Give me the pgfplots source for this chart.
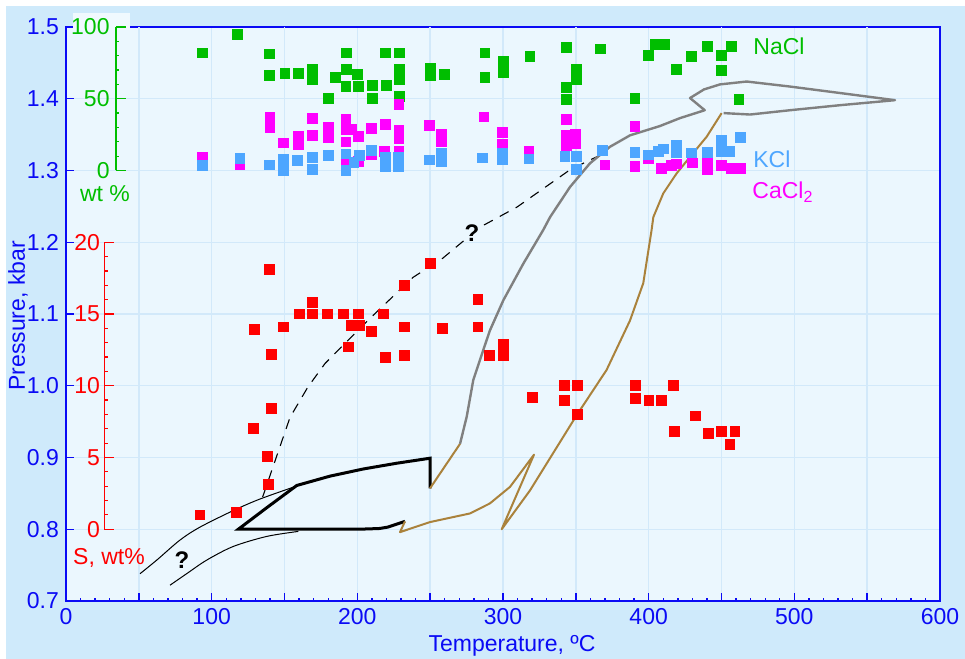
\documentclass[border=0pt]{standalone}
\usepackage{pgfplots}
\pgfplotsset{compat=1.18}
\usepackage{fontspec}
\setmainfont{Liberation Sans}
\definecolor{outerbg}{RGB}{207,234,251}
\definecolor{innerbg}{RGB}{235,247,254}
\definecolor{patchbg}{RGB}{240,249,254}
\definecolor{gridc}{RGB}{210,233,250}
\definecolor{axblue}{RGB}{10,10,245}
\definecolor{ngreen}{RGB}{0,190,0}
\definecolor{kblue}{RGB}{77,166,255}
\definecolor{cmag}{RGB}{255,0,255}
\definecolor{sred}{RGB}{255,0,0}
\definecolor{brownc}{RGB}{170,130,60}
\definecolor{greyc}{RGB}{128,128,128}
\newcommand\f{\fontsize{11.5}{13.8}\selectfont}
\pgfplotsset{
  common/.style={at={(33pt,29pt)}, anchor=south west, scale only axis,
    width=437pt, height=287pt, xmin=0, xmax=600},
  pts/.style={only marks, mark=square*, mark size=2.45pt, color=#1, mark options={solid, fill=#1, draw=none}},
}
\begin{document}
\begin{tikzpicture}[font=\f]
\useasboundingbox (0,0) rectangle (482.5pt,329.5pt);
\fill[white] (0,0) rectangle (482.5pt,329.5pt);
\fill[outerbg] (3pt,0) rectangle (482.5pt,326.5pt);
\begin{axis}[common, ymin=0.7, ymax=1.5,
  xtick={0,100,200,300,400,500,600},
  ytick={0.7,0.8,0.9,1.0,1.1,1.2,1.3,1.4,1.5},
  yticklabel style={/pgf/number format/.cd, fixed, fixed zerofill, precision=1},
  /pgf/number format/assume math mode=true,
  minor x tick num=9,
  extra x ticks={50,150,250,350,450,550}, extra x tick labels={},
  extra x tick style={grid=major},
  grid=major, major grid style={draw=gridc, line width=0.7pt},
  tick align=inside, xtick pos=bottom, ytick pos=left,
  major tick length=4pt, minor tick length=1.6pt,
  axis line style={draw=axblue, line width=1.3pt},
  tick style={draw=axblue, line width=0.7pt},
  ticklabel style={text=axblue, font=\f},
  axis background/.style={fill=innerbg},
  clip=false]
% thin upper black curve
\addplot[black, line width=0.5pt, smooth] coordinates {(50.8,0.738) (62.3,0.757) (78.3,0.785) (92,0.803) (114.8,0.826) (133,0.842) (158,0.860)};
% thin lower black curve
\addplot[black, line width=0.5pt, smooth] coordinates {(71.4,0.722) (82.8,0.738) (96.6,0.757) (114.8,0.776) (137.8,0.790) (159.5,0.797)};
% dashed curve
\addplot[black, line width=0.55pt, dash pattern=on 5pt off 4pt] coordinates {(135,0.845) (153.8,0.956) (166,0.998) (177.8,1.031) (191.5,1.059) (210.8,1.098) (238.2,1.151) (258.8,1.178) (284.2,1.221) (309.6,1.249) (346,1.301) (369.3,1.324)};
% thick black
\addplot[black, line width=1.5pt, line join=miter] coordinates {(249.9,0.857) (249.9,0.899) (227,0.892) (204.1,0.884) (181.2,0.874) (158.4,0.861) (137.8,0.830) (118.3,0.800) (200.4,0.800) (215,0.801) (221,0.803) (232.7,0.811)};
% brown A
\addplot[brownc, line width=1pt] coordinates {(249.9,0.857) (270.5,0.919)};
% brown B
\addplot[brownc, line width=1pt, line join=round] coordinates {(232.7,0.811) (229.3,0.796) (249.9,0.810) (277.3,0.822) (291,0.836) (304.8,0.859) (321.3,0.904) (299.1,0.800) (318.5,0.854) (350.6,0.959) (371.1,1.022) (387.2,1.091) (396.3,1.143) (402,1.217) (403.2,1.235) (410,1.268) (419.2,1.296) (428.4,1.319) (439.8,1.347) (450.1,1.380)};
% grey
\addplot[greyc, line width=1.2pt, line join=round] coordinates {(270.5,0.919) (275.1,0.957) (279.6,1.008) (286.5,1.050) (291,1.077) (300.2,1.119) (313.9,1.170) (327.6,1.217) (332.3,1.235) (346,1.277) (359.7,1.310) (373.4,1.333) (387.2,1.349) (407.8,1.362) (421.5,1.373) (438.5,1.384) (428.4,1.401) (438,1.413) (449,1.420) (467.3,1.424) (497,1.417) (531.3,1.408) (569.1,1.398) (531.3,1.391) (497,1.384) (469.6,1.378) (451.5,1.380)};
\end{axis}
\fill[patchbg] (36.5pt,314.6pt) rectangle (65pt,323pt);
% NaCl, CaCl2, KCl on wt% scale
\begin{axis}[common, ymin=-300, ymax=100, hide axis, clip=false]
\draw[ngreen, line width=0.7pt] (axis cs:34.3,0) -- (axis cs:34.3,100);
\pgfplotsinvokeforeach{10,20,30,40,60,70,80,90}{\draw[ngreen, line width=0.6pt] (axis cs:34.3,#1) -- ([xshift=1.7pt]axis cs:34.3,#1);}
\pgfplotsinvokeforeach{0,50,100}{\draw[ngreen, line width=0.7pt] (axis cs:34.3,#1) -- ([xshift=5pt]axis cs:34.3,#1);
  \node[anchor=east, inner sep=0pt, text=ngreen] at ([xshift=-3pt]axis cs:34.3,#1) {#1};}
\addplot[pts=ngreen] coordinates {
(93.6,82) (117.6,94.7) (139.6,81.3) (139.6,66.3) (150.3,67.7) (159.5,67.7) (169.4,70.4) (169.4,63.5)
(180,50.1) (184.7,65.1) (192.7,82) (192.7,70.4) (192.2,58.4) (200,67) (200.7,58.4) (210.5,59.3)
(210.5,50.1) (219,82) (219.7,59.3) (228.8,82) (228.8,70.4) (228.8,63.5) (228.8,51.7) (250.4,71)
(250.4,66) (259.5,67) (287.6,82) (287.6,65.1) (300.2,76.2) (300.2,68.1) (318.5,79.6) (343.7,85.5)
(350.6,70.4) (350.6,63.5) (343.7,57.7) (343.7,49.7) (367,84.8) (390.6,50.1) (399.7,80.1) (404.4,87.7)
(411.2,87.7) (419.2,70.4) (429.5,79.6) (440.5,86.6) (450.1,80.1) (450.1,70) (457,86.6) (462,49.7)};
\addplot[pts=cmag] coordinates {
(93.6,9.3) (119.4,4.2) (140,37.2) (140,30.2) (149.2,19.2) (159.5,24) (159.5,17.8) (169.4,36.3)
(169.4,24.2) (180,30.2) (180,23.3) (192.2,35.8) (192.2,28.9) (192.2,19.9) (196,28.9) (200.7,23.8)
(192.2,5.8) (200.7,6.5) (209.4,29.4) (209.4,10.9) (219,32.3) (218.6,13.2) (228.6,27.7) (228.6,22)
(228.6,46.2) (228.6,13.2) (249.4,31.6) (257.9,25.4) (257.9,19.9) (286.9,37.4) (299.6,26.6) (299.6,18.5)
(317.8,13.2) (343.7,35.8) (343.7,24.2) (343.7,17.3) (349.9,25.4) (349.9,18.5) (370,3.9) (390.6,30.7)
(390.6,3) (399.7,8.1) (408.9,1.2) (415.7,3.5) (419.2,4.6) (430.2,5.3) (440.2,5.8) (440.2,0.5)
(450.1,3.5) (457,1.2) (462.7,1.2)};
\addplot[pts=kblue] coordinates {
(93.6,3.5) (119.4,8.6) (139.6,3.9) (149.2,7.6) (149.2,0) (158.8,6.9) (169.4,9.3) (169.4,0.7)
(180,10.4) (192.2,11.6) (192.2,0) (197.7,5.8) (201.3,10.4) (209.4,13.9) (219,9) (219,3)
(228.1,9) (228.1,3) (249.4,7.4) (257.9,12) (257.9,6) (286,8.8) (299.6,12) (299.6,8) (317.8,8.1)
(342.5,10) (350.6,10) (350.6,0.7) (368.3,13.9) (390.6,12.7) (399.7,10.9) (406.6,13.2) (410,15)
(419.2,17.3) (419.2,12.7) (429.5,12.3) (440.2,12.7) (450.1,20.8) (450.1,13.2) (455.8,13.2) (462.7,23.1)};
\end{axis}
% S wt% scale
\begin{axis}[common, ymin=-5, ymax=35, hide axis, clip=false]
\draw[sred, line width=0.7pt] (axis cs:26.3,0) -- (axis cs:26.3,20);
\pgfplotsinvokeforeach{1,2,3,4,6,7,8,9,11,12,13,14,16,17,18,19}{\draw[sred, line width=0.6pt] (axis cs:26.3,#1) -- ([xshift=1.7pt]axis cs:26.3,#1);}
\pgfplotsinvokeforeach{0,5,10,15,20}{\draw[sred, line width=0.7pt] (axis cs:26.3,#1) -- ([xshift=5pt]axis cs:26.3,#1);
  \node[anchor=east, inner sep=0pt, text=sred] at ([xshift=-2pt]axis cs:26.3,#1) {#1};}
\addplot[pts=sred] coordinates {
(91.9,1.0) (117.1,1.2) (128.6,7.0) (138.4,5.1) (138.9,3.1) (141.2,8.4) (139.6,18.1) (141.2,12.2)
(129.3,13.9) (149.2,14.1) (160.2,15) (169.4,15.8) (169.4,15) (179.4,15) (190.4,15) (200.7,15)
(196.1,14.2) (201.3,14.2) (193.8,12.7) (209.4,13.8) (217.8,15) (219.5,12.0) (232.1,17.0) (232.1,14.1)
(232.1,12.1) (250.4,18.5) (258.6,14.0) (282.8,16) (282.8,14.1) (290.4,12.1) (300.2,12.9) (300.2,12.1)
(320.1,9.2) (342.1,10) (350.8,10) (342.1,9.0) (350.8,8.0) (391.1,10) (391.1,9.1) (400.2,9.0)
(408.5,9.0) (416.9,10) (417.6,6.8) (432,7.9) (440.9,6.7) (450.1,6.8) (459.2,6.8) (455.8,5.9)};
\end{axis}
\node[rotate=90, text=axblue] at (9pt,171.5pt) {Pressure, kbar};
\node[anchor=base, text=axblue] at (256pt,3.5pt) {Temperature, ºC};
\node[anchor=base, text=ngreen] at (52.5pt,228.5pt) {wt \%};
\node[anchor=base, text=sred] at (54.5pt,47pt) {S, wt\%};
\node[anchor=base west, inner sep=0pt, text=ngreen] at (376.5pt,302pt) {NaCl};
\node[anchor=base west, inner sep=0pt, text=kblue] at (376.5pt,245.5pt) {KCl};
\node[anchor=base west, inner sep=0pt, text=cmag] at (376pt,230pt) {CaCl\textsubscript{2}};
\node[font=\fontsize{12}{14}\selectfont\bfseries] at (236pt,213pt) {?};
\node[font=\fontsize{12}{14}\selectfont\bfseries] at (91pt,49.5pt) {?};
\end{tikzpicture}
\end{document}
